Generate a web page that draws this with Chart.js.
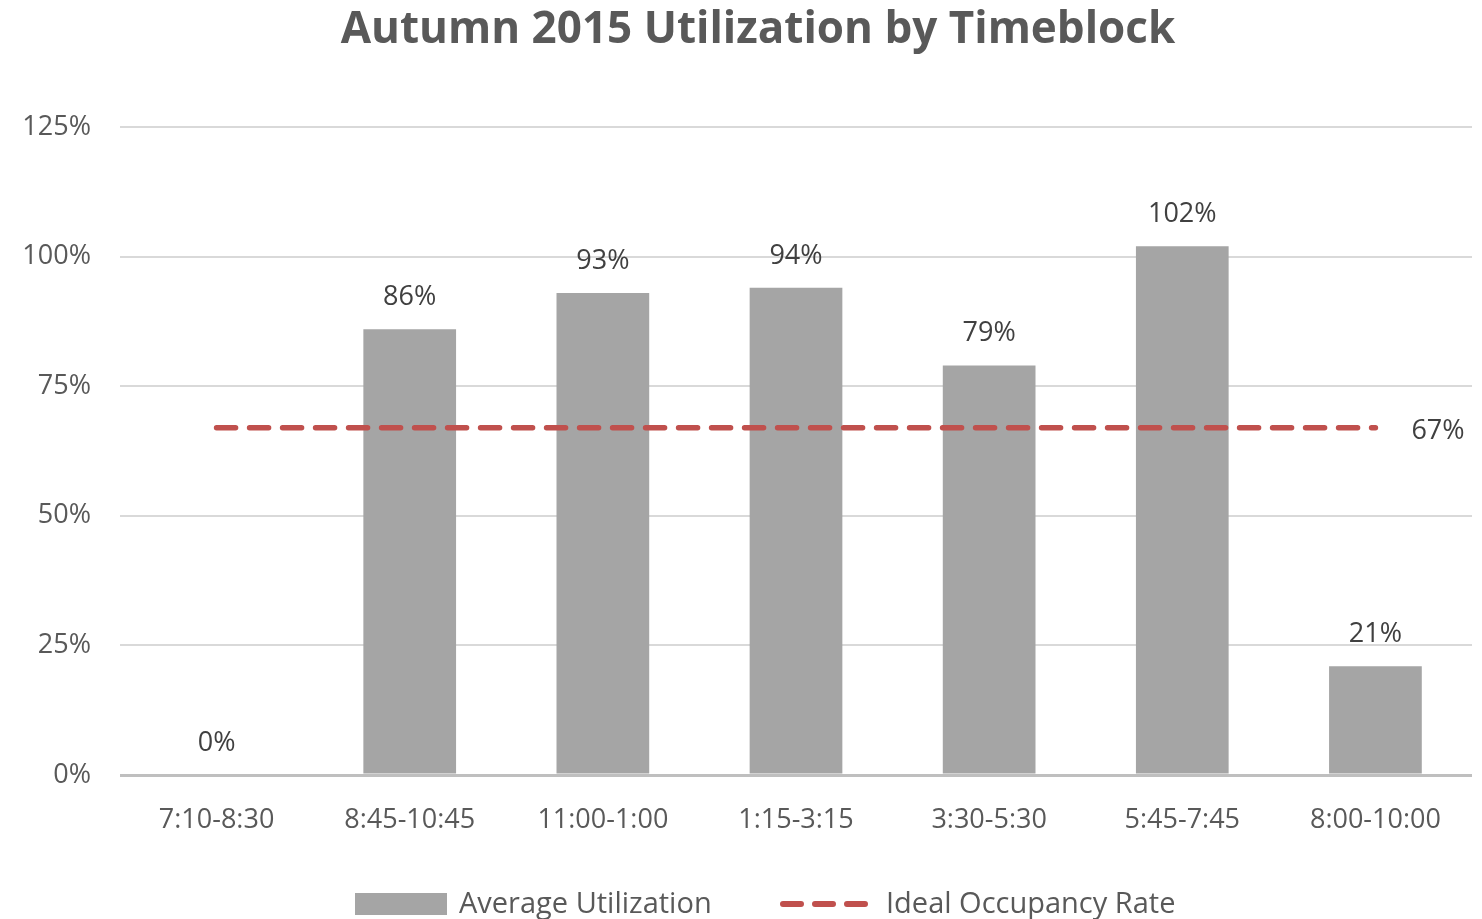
<!DOCTYPE html>
<html>
<head>
<meta charset="utf-8">
<script src="https://cdn.jsdelivr.net/npm/chart.js@4/dist/chart.umd.min.js"></script>
<style>
html,body{margin:0;padding:0;background:#fff;}
#wrap{width:1482px;height:919px;position:relative;}
</style>
</head>
<body>
<div id="wrap"><canvas id="c" width="1482" height="919"></canvas></div>
<script>
const categories = ["7:10-8:30","8:45-10:45","11:00-1:00","1:15-3:15","3:30-5:30","5:45-7:45","8:00-10:00"];
const avgUtilization = [0, 86, 93, 94, 79, 102, 21];
const idealRate = [67, 67, 67, 67, 67, 67, 67];
const seriesNames = ["Average Utilization", "Ideal Occupancy Rate"];
const titleText = "Autumn 2015 Utilization by Timeblock";
const yTicks = [0, 25, 50, 75, 100, 125];

const FONT = "'Open Sans', Lato, sans-serif";
const TXT = "#595959";
const BAR = "#A5A5A5";
const RED = "#C0504D";

const overlay = {
  id: 'overlay',
  afterDraw(chart) {
    const ctx = chart.ctx;
    ctx.save();
    // title
    ctx.font = "bold 44px " + FONT;
    ctx.fillStyle = TXT;
    ctx.textAlign = 'center';
    ctx.textBaseline = 'alphabetic';
    ctx.fillText(titleText, 758, 43);
    // data labels
    ctx.font = "27px " + FONT;
    ctx.fillStyle = "#404040";
    const meta = chart.getDatasetMeta(0);
    meta.data.forEach((bar, i) => {
      ctx.fillText(avgUtilization[i] + "%", bar.x, bar.y - 24);
    });
    // 67% label at end of line
    const lm = chart.getDatasetMeta(1);
    const last = lm.data[lm.data.length - 1];
    ctx.textAlign = 'left';
    ctx.fillText(idealRate[idealRate.length - 1] + "%", last.x + 36, last.y + 11);
    // legend
    const ly = 904;
    ctx.fillStyle = BAR;
    ctx.fillRect(355, ly - 11, 92, 22);
    ctx.font = "29px " + FONT;
    ctx.fillStyle = TXT;
    ctx.textAlign = 'left';
    ctx.textBaseline = 'middle';
    ctx.fillText(seriesNames[0], 459, ly + 1);
    ctx.strokeStyle = RED;
    ctx.lineWidth = 6;
    ctx.lineCap = 'round';
    ctx.setLineDash([18, 14]);
    ctx.beginPath();
    ctx.moveTo(783, ly);
    ctx.lineTo(868, ly);
    ctx.stroke();
    ctx.setLineDash([]);
    ctx.fillText(seriesNames[1], 886, ly + 1);
    ctx.restore();
  }
};

new Chart(document.getElementById('c'), {
  type: 'bar',
  data: {
    labels: categories,
    datasets: [
      {
        label: seriesNames[0],
        data: avgUtilization,
        backgroundColor: BAR,
        borderWidth: 0,
        barPercentage: 0.8,
        categoryPercentage: 0.6,
        order: 2
      },
      {
        type: 'line',
        label: seriesNames[1],
        data: idealRate,
        borderColor: RED,
        borderWidth: 5.5,
        borderDash: [19, 14],
        borderCapStyle: 'round',
        pointRadius: 0,
        fill: false,
        order: 1
      }
    ]
  },
  options: {
    responsive: false,
    animation: false,
    devicePixelRatio: 1,
    layout: { padding: { top: 127, right: 10, bottom: 0, left: 0 } },
    plugins: {
      legend: { display: false },
      title: { display: false },
      tooltip: { enabled: false }
    },
    scales: {
      x: {
        grid: { display: false, drawTicks: false },
        border: { display: false },
        ticks: { color: TXT, font: { family: FONT, size: 27 }, padding: 29, maxRotation: 0 },
        afterFit(scale) { scale.height = 144; }
      },
      y: {
        min: 0,
        max: 125,
        afterBuildTicks(scale) { scale.ticks = yTicks.map(v => ({ value: v })); },
        grid: {
          drawTicks: false,
          color: (c) => c.tick && c.tick.value === 0 ? '#BFBFBF' : '#D9D9D9',
          lineWidth: (c) => c.tick && c.tick.value === 0 ? 3 : 2
        },
        border: { display: false },
        ticks: {
          color: TXT,
          font: { family: FONT, size: 27 },
          padding: 29,
          callback: (v) => v + "%"
        },
        afterFit(scale) { scale.width = 120; }
      }
    }
  },
  plugins: [overlay]
});
</script>
</body>
</html>
